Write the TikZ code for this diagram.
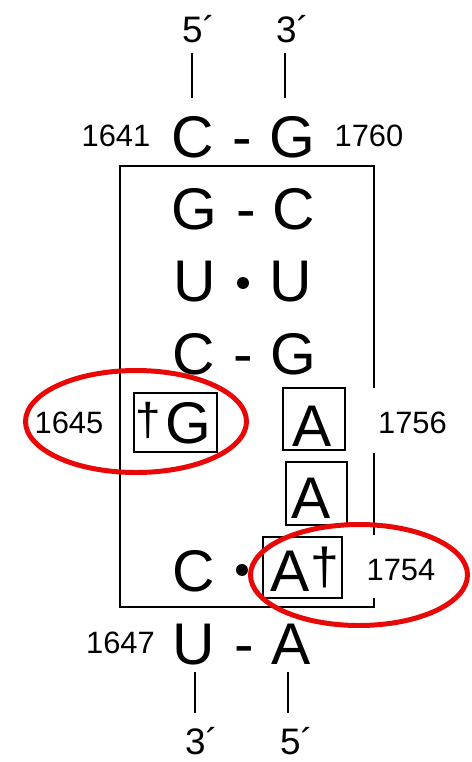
\documentclass[tikz,border=0pt]{standalone}
\usepackage{fontspec}
\setmainfont{Liberation Sans}
\definecolor{markred}{RGB}{232,8,8}
\newcommand{\basefont}{\fontsize{59}{59}\selectfont}
\newcommand{\numfont}{\fontsize{31}{31}\selectfont}
\newcommand{\termfont}{\fontsize{37}{37}\selectfont}
\tikzset{
  base/.style={inner sep=0pt, anchor=base, font=\basefont},
  pairsym/.style={inner sep=0pt, anchor=base, font=\basefont},
  numlabel/.style={inner sep=0pt, anchor=base, font=\numfont},
  termlabel/.style={inner sep=0pt, anchor=base west, font=\termfont},
  dagger/.style={inner sep=0pt, anchor=center},
  boxed/.style={draw, line width=2pt, inner sep=0pt},
  strand/.style={line width=2.6pt},
  frame/.style={line width=2.6pt},
  wobble/.style={fill, circle, inner sep=0pt, minimum size=12pt},
  highlight/.style={draw=markred, line width=5pt}
}
\begin{document}
\begin{tikzpicture}[x=1bp, y=-1bp]
\useasboundingbox (0,0) rectangle (472,762);
\fill[white] (0,0) rectangle (472,762);

% strand ends
\node[termlabel] (t5) at (182,43) {5´};
\node[termlabel] (t3) at (276,43) {3´};
\node[termlabel] (b3) at (185,754) {3´};
\node[termlabel] (b5) at (280,754) {5´};

% closing pair 1641-1760
\node[base] (c1641) at (193,157) {C};
\node[pairsym] (d1) at (242,157) {-};
\node[base] (g1760) at (292,157) {G};
\node[numlabel] (n1641) at (116,146) {1641};
\node[numlabel] (n1760) at (369,146) {1760};

% helix
\node[base] (g2) at (194.5,229) {G};
\node[pairsym] (d2) at (246,229) {-};
\node[base] (c2) at (293.5,229) {C};

\node[base] (u3) at (194.5,301) {U};
\node[wobble] (w3) at (243,283) {};
\node[base] (u3r) at (291,301) {U};

\node[base] (c4) at (194,374) {C};
\node[pairsym] (d4) at (243,374) {-};
\node[base] (g4) at (293,374) {G};

% boxed bases of the internal loop
\node[boxed, minimum width=83pt, minimum height=59pt] (bx1645) at (175.5,422.5) {};
\node[base] (g1645) at (188,443) {G};
\node[dagger, font=\fontsize{46}{46}\selectfont] (dg1645) at (148.5,420) {†};
\node[numlabel] (n1645) at (69,433) {1645};

\node[boxed, minimum width=62pt, minimum height=62pt] (bx1756) at (314,419) {};
\node[base] (a1756) at (312,446) {A};
\node[numlabel] (n1756) at (412.5,433) {1756};

\node[boxed, minimum width=61pt, minimum height=63pt] (bx1755) at (316.5,493.5) {};
\node[base] (a1755) at (311,518) {A};

\node[base] (c1646) at (194,591) {C};
\node[wobble] (w7) at (242,570) {};
\node[boxed, minimum width=79pt, minimum height=61pt] (bx1754) at (302.5,567.5) {};
\node[base] (a1754) at (290,591) {A};
\node[dagger, font=\fontsize{52}{52}\selectfont] (dg1754) at (324.5,567.5) {†};
\node[numlabel] (n1754) at (401,580) {1754};

% closing pair 1647
\node[base] (u1647) at (193.5,664) {U};
\node[pairsym] (d8) at (244,664) {-};
\node[base] (a8) at (291,664) {A};
\node[numlabel] (n1647) at (120.5,653) {1647};

% strand connectors
\coordinate (s1a) at (192,53);  \coordinate (s1b) at (192,98);
\coordinate (s2a) at (285,53);  \coordinate (s2b) at (285,98);
\coordinate (s3a) at (195,672); \coordinate (s3b) at (195,713);
\coordinate (s4a) at (288,672); \coordinate (s4b) at (288,713);
\draw[strand] (s1a) -- (s1b);
\draw[strand] (s2a) -- (s2b);
\draw[strand] (s3a) -- (s3b);
\draw[strand] (s4a) -- (s4b);

% bracket round the internal loop
\coordinate (fTL) at (120,166);
\coordinate (fTR) at (374,166);
\coordinate (fBL) at (120,607);
\coordinate (fBR) at (374,607);
\draw[frame] (374,388) -- (fTR) -- (fTL) -- (fBL) -- (fBR) -- (374,598);
\draw[frame] (374,453) -- (374,535);

% highlighted sites
\draw[highlight] (136,421.5) ellipse [x radius=110.5, y radius=51];
\draw[highlight] (359,575) ellipse [x radius=108.5, y radius=50.5];
\end{tikzpicture}
\end{document}
